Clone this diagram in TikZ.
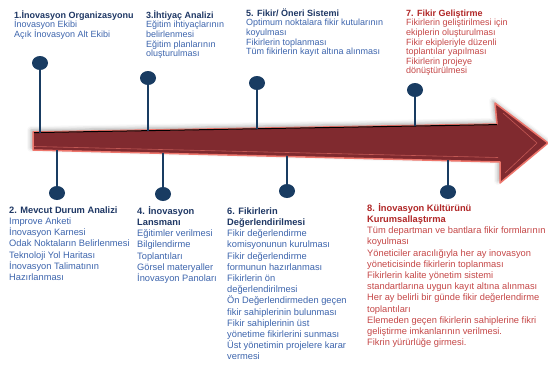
\documentclass[tikz,border=0pt]{standalone}
\usepackage{fontspec}
\setmainfont{Liberation Sans}
\usetikzlibrary{shapes.geometric,shadows.blur}

\definecolor{corTitulo}{RGB}{30,55,100}
\definecolor{corTexto}{RGB}{60,100,172}
\definecolor{corTituloV}{RGB}{176,38,38}
\definecolor{corTextoV}{RGB}{196,70,70}
\definecolor{corPino}{RGB}{25,60,98}
\definecolor{corSeta}{RGB}{128,42,47}
\definecolor{corBorda}{RGB}{238,118,108}

\newcommand{\lin}{\rule{0pt}{9pt}}
\newcommand{\apertado}{\lineskiplimit=-9pt\relax}
\newcommand{\tit}[1]{\textcolor{corTitulo}{\textbf{#1}}}
\newcommand{\titv}[1]{\textcolor{corTituloV}{\textbf{#1}}}

\begin{document}
\begin{tikzpicture}[x=1pt,y=-1pt,
	topo/.style={anchor=north west, inner sep=0pt, align=left, text=corTexto,
		font=\fontsize{9}{9.6}\selectfont\apertado},
	baixo/.style={anchor=north west, inner sep=0pt, align=left, text=corTexto,
		font=\fontsize{9.3}{11.2}\selectfont\apertado},
	pino/.style={ellipse, fill=corPino, minimum width=16pt, minimum height=14pt, inner sep=0pt},
	haste/.style={draw=corPino, line width=2.6pt}]
		\useasboundingbox (0,0) rectangle (548,367);

		% Seta
		\draw[fill=corSeta, draw=corBorda, line width=1.5pt, line join=round,
			blur shadow={shadow xshift=-2pt, shadow yshift=2pt, shadow blur radius=4pt, shadow opacity=35}]
			(33,132) -- (497,124) -- (495,103) -- (548,143) -- (500,183) -- (500,162) -- (33,150) -- cycle;
		\draw[black, line width=1pt] (34,132.6) -- (497,124.6);
		\draw[corBorda!60!corSeta, line width=0.6pt] (34,146.5) -- (498,157.5);
		\draw[corBorda!60!corSeta, line width=0.6pt] (503,113) -- (537,143) -- (505,173);

		% Pontos na seta
		\coordinate (a1) at (40,132.5);
		\coordinate (a3) at (148,130.5);
		\coordinate (a5) at (257,128.5);
		\coordinate (a7) at (415,126);
		\coordinate (a2) at (57,150);
		\coordinate (a4) at (163,153);
		\coordinate (a6) at (287,156);
		\coordinate (a8) at (448,160);

		% Pinos
		\node[pino] (p1) at (40,63)  {};
		\node[pino] (p3) at (148,78) {};
		\node[pino] (p5) at (257,83) {};
		\node[pino] (p7) at (415,90) {};
		\node[pino] (p2) at (57,193)  {};
		\node[pino] (p4) at (163,194) {};
		\node[pino] (p6) at (287,191) {};
		\node[pino] (p8) at (448,192) {};

		\draw[haste] (p1) -- (a1);
		\draw[haste] (p3) -- (a3);
		\draw[haste] (p5) -- (a5);
		\draw[haste] (p7) -- (a7);
		\draw[haste] (p2) -- (a2);
		\draw[haste] (p4) -- (a4);
		\draw[haste] (p6) -- (a6);
		\draw[haste] (p8) -- (a8);

		% Etapas de cima
		\node[topo] (e1) at (14,9) {\tit{\lin 1.İnovasyon Organizasyonu}\\
			İnovasyon Ekibi\\ Açık İnovasyon Alt Ekibi};
		\node[topo] (e3) at (146,9) {\tit{\lin 3.İhtiyaç Analizi}\\
			Eğitim ihtiyaçlarının\\ belirlenmesi\\ Eğitim planlarının\\ oluşturulması};
		\node[topo] (e5) at (246,7) {\tit{\lin 5. Fikir/ Öneri Sistemi}\\
			Optimum noktalara fikir kutularının\\ koyulması\\ Fikirlerin toplanması\\
			Tüm fikirlerin kayıt altına alınması};
		\node[topo, text=corTextoV] (e7) at (406,7) {\titv{\lin 7. Fikir Geliştirme}\\
			Fikirlerin geliştirilmesi için\\ ekiplerin oluşturulması\\ Fikir ekipleriyle düzenli\\
			toplantılar yapılması\\ Fikirlerin projeye\\ dönüştürülmesi};

		% Etapas de baixo
		\node[baixo] (e2) at (9,204) {\tit{\lin 2. Mevcut Durum Analizi}\\
			Improve Anketi\\ İnovasyon Karnesi\\ Odak Noktaların Belirlenmesi\\
			Teknoloji Yol Haritası\\ İnovasyon Talimatının\\ Hazırlanması};
		\node[baixo] (e4) at (137,205) {\tit{\lin 4. İnovasyon}\\ \tit{Lansmanı}\\
			Eğitimler verilmesi\\ Bilgilendirme\\ Toplantıları\\ Görsel materyaller\\
			İnovasyon Panoları};
		\node[baixo] (e6) at (227,205) {\tit{\lin 6. Fikirlerin}\\ \tit{Değerlendirilmesi}\\
			Fikir değerlendirme\\ komisyonunun kurulması\\ Fikir değerlendirme\\
			formunun hazırlanması\\ Fikirlerin ön\\ değerlendirilmesi\\
			Ön Değerlendirmeden geçen\\ fikir sahiplerinin bulunması\\
			Fikir sahiplerinin üst\\ yönetime fikirlerini sunması\\
			Üst yönetimin projelere karar\\ vermesi};
		\node[baixo, text=corTextoV] (e8) at (367,202) {\titv{\lin 8. İnovasyon Kültürünü}\\
			\titv{Kurumsallaştırma}\\
			Tüm departman ve bantlara fikir formlarının\\ koyulması\\
			Yöneticiler aracılığıyla her ay inovasyon\\ yöneticisinde fikirlerin toplanması\\
			Fikirlerin kalite yönetim sistemi\\ standartlarına uygun kayıt altına alınması\\
			Her ay belirli bir günde fikir değerlendirme\\ toplantıları\\
			Elemeden geçen fikirlerin sahiplerine fikri\\ geliştirme imkanlarının verilmesi.\\
			Fikrin yürürlüğe girmesi.};
	\end{tikzpicture}
\end{document}
